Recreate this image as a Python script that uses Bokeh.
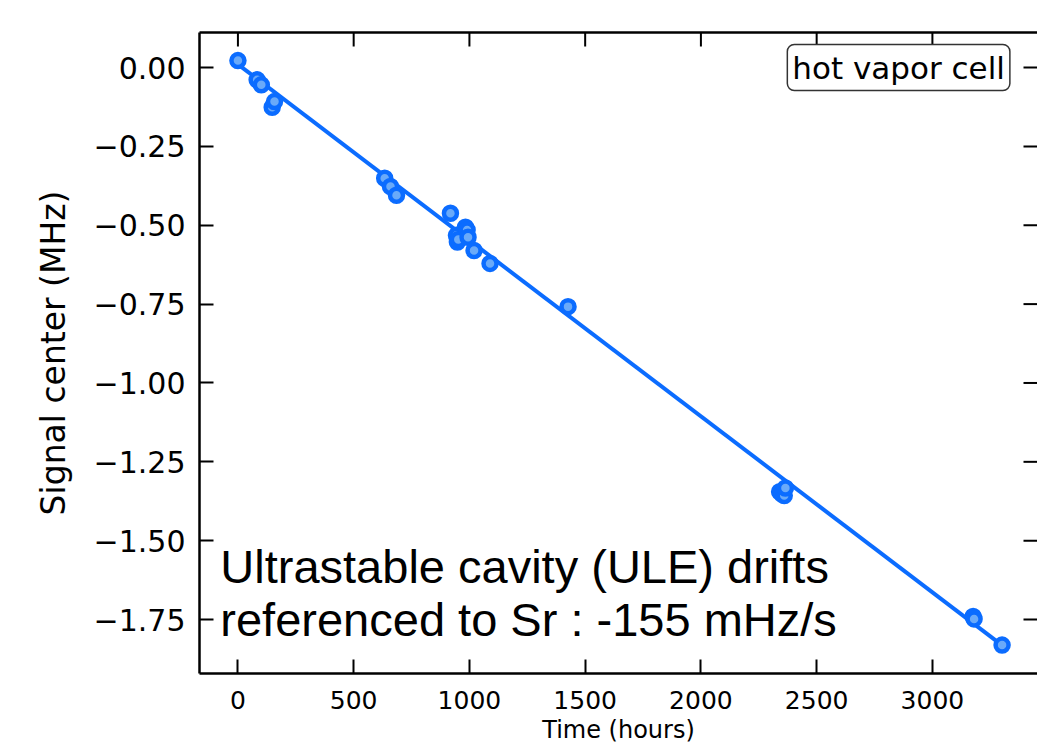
from bokeh.plotting import figure
from bokeh.models import Range1d, FixedTicker, CustomJSTickFormatter, LinearAxis, Label
from bokeh.embed import file_html
from bokeh.resources import INLINE

# ---- data ----
time_h = [0, 83, 101, 148, 158, 634, 659, 685, 918, 944, 948, 952, 983, 990, 994,
          1020, 1089, 1426, 2340, 2350, 2360, 2365, 3176, 3180, 3301]
signal_mhz = [0.022, -0.039, -0.055, -0.126, -0.108, -0.351, -0.377, -0.405, -0.462,
              -0.532, -0.553, -0.545, -0.506, -0.515, -0.538, -0.580, -0.621, -0.758,
              -1.345, -1.352, -1.357, -1.333, -1.740, -1.748, -1.831]
fit_time = [0, 3300]
fit_signal = [0.010, -1.831]
x_ticks = [0, 500, 1000, 1500, 2000, 2500, 3000]
y_ticks = [0.0, -0.25, -0.5, -0.75, -1.0, -1.25, -1.5, -1.75]
legend_text = "hot vapor cell"
note_lines = ["Ultrastable cavity (ULE) drifts", "referenced to Sr : -155 mHz/s"]

BLUE = "#0b6cff"
LIGHT = "#6aaaf9"
TICK_FONT = "DejaVu Sans"

W, H = 1037, 755
BORDER_L, BORDER_R, BORDER_T, BORDER_B = 199, 0, 32, 82
X_MIN, X_MAX = -166, 3454
Y_MIN, Y_MAX = -1.921, 0.111
TICK_PX = 14
TICK_W_PX = 2

p = figure(width=W, height=H, output_backend="svg", toolbar_location=None,
           x_range=Range1d(X_MIN, X_MAX), y_range=Range1d(Y_MIN, Y_MAX),
           min_border_left=BORDER_L, min_border_right=BORDER_R,
           min_border_top=BORDER_T, min_border_bottom=BORDER_B,
           x_axis_label="Time (hours)", y_axis_label="Signal center (MHz)")
p.outline_line_color = None
p.background_fill_color = "white"
p.border_fill_color = "white"
p.xgrid.grid_line_color = None
p.ygrid.grid_line_color = None

ytick_fmt = CustomJSTickFormatter(code="return (tick < -1e-9 ? '\u2212' : '') + Math.abs(tick).toFixed(2);")

xa = p.xaxis[0]
xa.ticker = FixedTicker(ticks=x_ticks)
xa.major_label_text_font = TICK_FONT
xa.major_label_text_font_size = "25px"
xa.major_label_standoff = 17
xa.axis_label_text_font = TICK_FONT
xa.axis_label_text_font_size = "24px"
xa.axis_label_text_font_style = "normal"
xa.axis_label_standoff = 4

ya = p.yaxis[0]
ya.ticker = FixedTicker(ticks=y_ticks)
ya.formatter = ytick_fmt
ya.major_label_text_font = TICK_FONT
ya.major_label_text_font_size = "30px"
ya.major_label_standoff = 14
ya.axis_label_text_font = TICK_FONT
ya.axis_label_text_font_size = "33px"
ya.axis_label_text_font_style = "normal"
ya.axis_label_standoff = 18

# top spine only (its ticks are drawn below)
top_axis = LinearAxis(ticker=FixedTicker(ticks=[]), axis_line_width=2.5, axis_line_color="black",
                      major_tick_line_color=None, minor_tick_line_color=None)
p.add_layout(top_axis, "above")

for ax in [xa, ya]:
    ax.major_tick_in = TICK_PX
    ax.major_tick_out = 0
    ax.major_tick_line_width = 2
    ax.major_tick_line_color = "black"
    ax.minor_tick_line_color = None
    ax.major_label_text_color = "black"
    ax.axis_label_text_color = "black"
    ax.axis_line_width = 2.5
    ax.axis_line_color = "black"

# inward ticks on the top and right sides, 14 px long (pixel sizes converted to data units)
frame_w = W - BORDER_L - BORDER_R
frame_h = H - BORDER_T - BORDER_B
tick_dy = TICK_PX * (Y_MAX - Y_MIN) / frame_h
tick_dx = TICK_PX * (X_MAX - X_MIN) / frame_w
half_w = 0.5 * TICK_W_PX * (X_MAX - X_MIN) / frame_w
p.quad(left=[t - half_w for t in x_ticks], right=[t + half_w for t in x_ticks],
       top=[Y_MAX] * len(x_ticks), bottom=[Y_MAX - tick_dy] * len(x_ticks),
       fill_color="black", line_color=None)
p.segment(x0=[X_MAX] * len(y_ticks), y0=y_ticks, x1=[X_MAX - tick_dx] * len(y_ticks), y1=y_ticks,
          line_color="black", line_width=2)

p.line(fit_time, fit_signal, line_width=4, line_color=BLUE)
p.scatter(time_h, signal_mhz, size=13, line_width=4.5, line_color=BLUE, fill_color=LIGHT)

legend_box = Label(x=2854, y=0.0, text=legend_text, text_align="center", text_baseline="middle",
                   text_font=TICK_FONT, text_font_size="31px", text_color="black",
                   text_line_height=1.0,
                   background_fill_color="white", border_line_color="#333333",
                   border_line_width=1.5, border_radius=7, padding=5)
p.add_layout(legend_box)

note1 = Label(x=-76, y=-1.581, text=note_lines[0], text_align="left", text_baseline="alphabetic",
              text_font="Liberation Sans", text_font_size="47px", text_color="black")
note2 = Label(x=-76, y=-1.750, text=note_lines[1], text_align="left", text_baseline="alphabetic",
              text_font="Liberation Sans", text_font_size="47px", text_color="black")
p.add_layout(note1)
p.add_layout(note2)

open("out.html", "w").write(file_html(p, INLINE))
